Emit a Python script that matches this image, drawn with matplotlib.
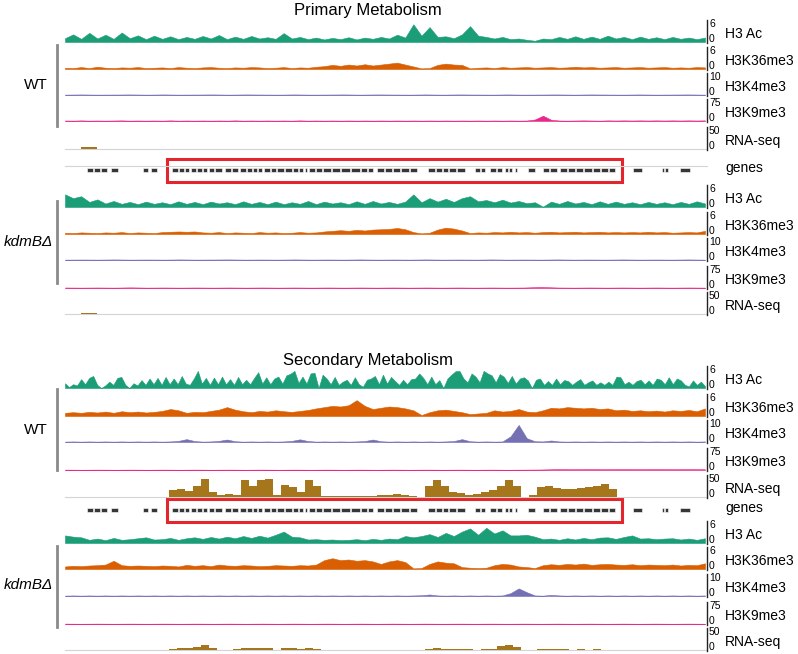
import numpy as np
import matplotlib.pyplot as plt
from matplotlib.patches import Rectangle

plt.rcParams['font.family'] = ['Liberation Sans', 'DejaVu Sans']

# track names, data range and colours (same for every block)
TRACK_NAMES = ['H3 Ac', 'H3K36me3', 'H3K4me3', 'H3K9me3', 'RNA-seq']
TRACK_MAX = [6, 6, 10, 75, 50]
TRACK_COLORS = ['#1b9e77', '#d95f02', '#7570b3', '#e7298a', '#a6761d']

# ---- Primary metabolism locus, binned signal left -> right ----
prim_wt_h3ac = [1.2, 2.4, 1.0, 2.9, 1.1, 2.3, 1.0, 3.0, 1.2, 2.1,
                0.9, 2.0, 1.0, 1.8, 0.9, 1.6, 1.0, 1.9, 1.1, 2.2,
                0.9, 1.7, 1.0, 1.9, 1.1, 1.5, 1.0, 2.8, 1.1, 1.6,
                0.9, 1.4, 0.8, 1.3, 0.9, 1.5, 0.8, 1.4, 1.0, 1.6,
                1.1, 2.3, 1.4, 5.6, 2.0, 4.7, 1.6, 1.8, 1.2, 2.4,
                5.0, 2.0, 1.6, 1.1, 1.6, 0.9, 1.1, 0.7, 0.4, 1.1,
                0.9, 1.6, 1.0, 1.8, 1.0, 1.7, 1.0, 2.0, 1.1, 1.6,
                0.9, 1.7, 1.0, 1.5, 0.9, 1.6, 1.0, 1.4, 0.9, 1.4]
prim_wt_k36 = [0.4, 0.3, 0.6, 0.3, 0.7, 0.4, 0.3, 0.5, 0.4, 0.6,
               0.3, 0.4, 0.5, 0.3, 0.6, 0.4, 0.3, 0.5, 0.6, 0.4,
               0.3, 0.5, 0.4, 0.6, 0.5, 0.3, 0.4, 0.6, 0.3, 0.5,
               0.4, 0.7, 0.9, 1.3, 1.0, 1.4, 1.1, 1.5, 1.1, 1.4,
               1.7, 2.0, 1.4, 0.8, 0.2, 0.3, 1.3, 1.7, 1.4, 1.3,
               0.2, 0.4, 0.5, 0.3, 0.6, 0.4, 0.5, 0.6, 0.4, 0.5,
               0.6, 0.4, 0.5, 0.7, 0.5, 0.6, 0.4, 0.5, 0.6, 0.4,
               0.5, 0.6, 0.4, 0.5, 0.6, 0.4, 0.5, 0.4, 0.6, 0.5]
prim_wt_k4 = [0.2, 0.3, 0.2, 0.25, 0.3, 0.2, 0.3, 0.2, 0.25, 0.3,
              0.2, 0.3, 0.25, 0.2, 0.3, 0.2, 0.25, 0.3, 0.2, 0.3,
              0.25, 0.2, 0.3, 0.2, 0.3, 0.25, 0.2, 0.3, 0.2, 0.25,
              0.3, 0.2, 0.3, 0.25, 0.2, 0.3, 0.2, 0.25, 0.3, 0.2]
prim_wt_k9 = [2.0, 1.5, 2.5, 1.5, 2.0, 1.5, 2.0, 2.5, 1.5, 2.0,
              1.5, 2.0, 1.5, 2.5, 1.5, 2.0, 1.5, 2.0, 1.5, 2.0,
              1.5, 2.5, 1.5, 2.0, 1.5, 2.0, 1.5, 2.0, 1.5, 2.5,
              1.5, 2.0, 1.5, 2.0, 1.5, 2.0, 1.5, 2.0, 1.5, 2.0,
              1.5, 2.0, 1.5, 2.0, 1.5, 2.0, 1.5, 2.0, 1.5, 2.0,
              1.5, 2.0, 1.5, 2.0, 1.5, 2.0, 1.5, 2.0, 6.0, 21.0,
              5.0, 2.0, 1.5, 2.0, 2.5, 2.0, 1.5, 2.5, 2.0, 2.5,
              2.0, 2.5, 2.0, 2.5, 2.0, 2.5, 2.0, 2.5, 2.0, 2.5]
prim_wt_rna = [0, 4, 0, 0, 0, 0, 0, 0, 0, 0,
               0, 0, 0, 0, 0, 0, 0, 0, 0, 0,
               0, 0, 0.5, 0, 0.5, 0, 0.5, 0, 0, 0,
               0, 0, 0, 0, 0, 0, 0, 0, 0, 0]
prim_ko_h3ac = [4.0, 2.8, 3.4, 1.6, 2.4, 1.1, 1.9, 1.0, 1.6, 0.9,
                1.7, 1.0, 1.5, 0.9, 1.8, 1.0, 1.6, 0.9, 1.7, 1.1,
                1.5, 0.9, 1.8, 1.0, 1.6, 0.9, 1.7, 0.9, 1.5, 1.0,
                1.9, 0.9, 1.7, 1.1, 1.5, 0.9, 1.8, 1.0, 1.9, 1.1,
                1.6, 1.0, 1.7, 4.0, 1.5, 2.8, 1.7, 2.6, 1.6, 2.8,
                3.4, 1.8, 2.2, 1.5, 2.3, 1.4, 1.9, 1.2, 1.5, 0.1,
                1.7, 1.0, 1.9, 1.1, 1.6, 0.9, 1.8, 1.0, 1.7, 1.0,
                1.5, 0.9, 1.6, 1.0, 1.5, 0.9, 1.6, 1.0, 1.8, 1.1]
prim_ko_k36 = [0.4, 0.3, 0.5, 0.4, 0.3, 0.5, 0.4, 0.6, 0.3, 0.5,
               0.4, 0.3, 0.6, 0.7, 0.8, 0.7, 0.8, 0.5, 0.4, 0.6,
               0.3, 0.5, 0.4, 0.3, 0.6, 0.4, 0.5, 0.3, 0.4, 0.6,
               0.4, 0.5, 0.8, 1.0, 1.2, 1.0, 1.3, 1.1, 1.4, 1.5,
               1.6, 1.9, 1.5, 0.6, 0.2, 0.4, 1.4, 2.0, 1.7, 1.1,
               0.3, 0.5, 0.4, 0.6, 0.5, 0.7, 0.5, 0.6, 0.4, 0.6,
               0.7, 0.5, 0.6, 0.7, 0.5, 0.6, 0.7, 0.5, 0.6, 0.5,
               0.6, 0.5, 0.7, 0.5, 0.6, 0.4, 0.5, 0.6, 0.5, 1.0]
prim_ko_k4 = [0.2, 0.25, 0.2, 0.3, 0.2, 0.25, 0.2, 0.3, 0.2, 0.25,
              0.3, 0.2, 0.25, 0.2, 0.3, 0.2, 0.25, 0.2, 0.3, 0.2,
              0.25, 0.2, 0.3, 0.2, 0.25, 0.2, 0.3, 0.2, 0.25, 0.2,
              0.3, 0.2, 0.25, 0.2, 0.3, 0.2, 0.25, 0.2, 0.3, 0.2]
prim_ko_k9 = [2.0, 1.5, 2.0, 1.5, 2.5, 1.5, 2.0, 1.5, 2.0, 1.5,
              2.0, 1.5, 2.0, 1.5, 2.0, 1.5, 2.0, 1.5, 2.0, 1.5,
              2.0, 1.5, 2.0, 1.5, 2.0, 1.5, 2.0, 1.5, 2.0, 4.0,
              2.0, 1.5, 2.0, 1.5, 2.0, 1.5, 2.0, 1.5, 2.0, 1.5]
prim_ko_rna = [0, 3, 0, 0, 0, 0, 0, 0, 0.6, 0,
               0, 0, 0, 0, 0, 0, 0, 0, 0, 0,
               0, 0, 0, 0, 0, 0, 0, 0, 0, 0,
               0, 0, 0, 0, 0, 0, 0, 0, 0, 0]

# ---- Secondary metabolism locus ----
sec_wt_h3ac = [1.5, 0.3, 1.2, 0.8, 2.8, 1.2, 3.2, 3.8, 1.0, 0.0,
               0.8, 2.0, 1.0, 3.2, 3.5, 1.0, 0.0, 1.5, 0.8, 2.5,
               1.0, 3.0, 1.2, 3.2, 1.0, 3.5, 1.2, 3.0, 1.2, 3.8,
               1.4, 1.0, 3.0, 5.4, 1.4, 3.2, 1.0, 3.3, 1.2, 3.6,
               1.2, 2.8, 1.0, 3.5, 1.2, 2.6, 1.2, 3.2, 5.0, 1.4,
               3.4, 1.2, 3.0, 3.6, 1.4, 4.0, 4.5, 5.4, 1.6, 3.6,
               1.4, 4.6, 4.8, 0.0, 4.2, 3.0, 1.2, 3.5, 1.0, 2.0,
               2.6, 1.0, 3.4, 1.2, 0.4, 2.6, 3.0, 3.8, 1.2, 4.2,
               1.4, 3.5, 2.2, 1.0, 2.6, 1.2, 2.8, 3.0, 4.6, 3.2,
               1.2, 3.6, 1.2, 2.5, 0.0, 3.0, 4.2, 5.3, 5.4, 3.0,
               1.8, 4.6, 3.6, 1.8, 5.4, 4.6, 4.0, 1.8, 4.4, 3.6,
               1.6, 3.8, 1.4, 3.0, 3.4, 2.4, 0.0, 2.6, 3.0, 1.0,
               2.2, 1.0, 3.0, 1.2, 2.5, 2.2, 1.0, 2.0, 2.8, 1.0,
               1.8, 2.4, 1.0, 1.8, 1.0, 2.0, 1.0, 3.6, 3.4, 1.2,
               2.0, 1.0, 2.2, 2.6, 1.2, 2.4, 1.0, 3.0, 2.6, 1.2,
               3.4, 1.2, 3.0, 2.4, 1.0, 0.5, 2.4, 1.0, 2.0, 0.6]
sec_wt_k36 = [1.0, 1.2, 1.0, 1.3, 1.1, 1.4, 1.0, 1.5, 1.2, 1.4,
              1.1, 1.3, 1.6, 2.2, 1.8, 1.0, 1.3, 1.2, 1.6, 2.0,
              2.8, 2.0, 1.5, 1.2, 1.6, 1.4, 1.8, 1.5, 1.3, 1.6,
              1.9, 2.4, 2.8, 3.2, 3.0, 3.4, 5.0, 3.2, 2.2, 2.6,
              3.0, 2.8, 2.4, 1.8, 0.3, 1.2, 1.8, 2.0, 1.6, 1.2,
              0.6, 0.8, 1.0, 1.8, 1.4, 1.6, 2.2, 1.4, 1.2, 1.8,
              2.6, 2.4, 2.8, 2.6, 2.4, 2.6, 2.2, 2.4, 1.8, 2.0,
              1.6, 1.8, 1.5, 1.7, 1.4, 1.8, 1.6, 1.9, 1.5, 2.4]
sec_wt_k4 = [0.2, 0.3, 0.2, 0.3, 0.2, 0.3, 0.2, 0.3, 0.2, 0.3,
             0.2, 0.3, 0.2, 0.3, 0.6, 1.5, 0.5, 0.2, 0.3, 0.6,
             1.3, 0.4, 0.2, 0.3, 0.2, 0.3, 0.2, 0.3, 0.6, 1.4,
             0.5, 0.2, 0.3, 0.2, 0.3, 0.2, 0.3, 0.5, 1.3, 0.4,
             0.2, 0.3, 0.2, 0.3, 0.2, 0.3, 0.2, 0.3, 0.5, 1.5,
             0.4, 0.2, 0.3, 0.2, 0.3, 3.0, 9.0, 2.0, 0.4, 0.3,
             0.8, 0.3, 0.2, 0.3, 0.2, 0.3, 0.2, 0.3, 0.2, 0.3,
             0.2, 0.3, 0.2, 0.3, 0.2, 0.3, 0.2, 0.3, 0.2, 0.3]
sec_wt_k9 = [1.5, 1.0, 1.5, 1.0, 1.5, 1.0, 1.5, 1.0, 1.5, 1.0,
             1.5, 1.0, 1.5, 1.0, 1.5, 1.0, 1.5, 1.0, 1.5, 1.0,
             1.5, 1.0, 1.5, 1.0, 1.5, 1.0, 1.5, 1.0, 1.5, 2.0,
             3.5, 3.0, 3.5, 3.0, 3.5, 3.0, 3.5, 3.0, 3.5, 3.0]
sec_wt_rna = [0, 0, 0, 0, 0, 0, 0, 0, 0, 0,
              0, 0, 0, 18, 22, 15, 30, 48, 12, 6,
              8, 4, 46, 30, 44, 48, 5, 32, 26, 14,
              44, 30, 3, 2, 2, 2, 3, 2, 2, 4,
              5, 7, 6, 3, 1, 30, 44, 28, 12, 10,
              6, 8, 14, 18, 30, 46, 30, 1, 4, 26,
              30, 24, 20, 22, 24, 26, 30, 34, 22, 0,
              0, 0, 0, 0, 0, 0, 0, 0, 0, 0]
sec_ko_h3ac = [2.4, 2.0, 1.8, 1.0, 1.4, 0.9, 1.6, 1.0, 1.2, 1.5,
               1.8, 1.1, 1.2, 1.6, 1.0, 1.5, 1.8, 1.3, 1.9, 1.4,
               2.0, 1.5, 2.2, 1.6, 2.3, 1.7, 2.6, 3.6, 2.0, 1.8,
               1.1, 1.2, 1.0, 1.1, 0.9, 1.0, 1.2, 0.9, 1.3, 1.0,
               1.4, 1.2, 2.2, 1.8, 2.2, 2.8, 1.9, 3.2, 2.2, 3.6,
               4.6, 2.6, 4.8, 3.0, 4.0, 2.4, 2.4, 2.6, 2.0, 1.2,
               1.4, 1.0, 1.5, 1.1, 1.6, 1.2, 1.7, 1.8, 1.3, 1.9,
               2.4, 1.4, 1.5, 1.2, 1.4, 1.5, 1.1, 1.4, 1.0, 1.5]
sec_ko_k36 = [0.8, 1.0, 0.9, 1.1, 1.2, 1.4, 2.6, 1.2, 1.0, 1.1,
              1.0, 0.9, 1.1, 1.0, 0.8, 1.3, 1.0, 1.2, 0.9, 1.4,
              1.1, 1.0, 1.2, 1.1, 0.9, 1.0, 1.2, 1.1, 1.0, 1.2,
              1.1, 1.4, 2.8, 3.4, 2.8, 3.0, 2.6, 2.8, 2.4, 1.6,
              2.4, 2.8, 2.2, 0.2, 0.3, 1.6, 2.4, 2.0, 1.8, 0.6,
              0.4, 0.3, 0.4, 1.2, 1.6, 1.4, 0.8, 0.6, 0.3, 1.2,
              1.5, 1.3, 1.6, 1.4, 1.7, 1.3, 1.5, 1.6, 1.4, 1.3,
              1.5, 1.2, 1.4, 1.3, 1.2, 1.4, 1.1, 1.3, 1.2, 1.8]
sec_ko_k4 = [0.2, 0.3, 0.2, 0.3, 0.2, 0.3, 0.2, 0.3, 0.2, 0.3,
             0.2, 0.3, 0.2, 0.3, 0.2, 0.3, 0.2, 0.3, 0.2, 0.3,
             0.2, 0.3, 0.2, 0.3, 0.2, 0.3, 0.2, 0.3, 0.2, 0.3,
             0.2, 0.3, 0.2, 0.3, 0.2, 0.3, 0.2, 0.3, 0.2, 0.3,
             0.2, 0.3, 0.2, 0.3, 0.4, 0.8, 0.3, 0.2, 0.3, 0.2,
             0.3, 0.2, 0.3, 0.2, 0.3, 1.5, 4.0, 2.0, 0.3, 0.2,
             0.6, 0.3, 0.2, 0.3, 0.2, 0.3, 0.2, 0.3, 0.2, 0.3,
             0.2, 0.3, 0.2, 0.3, 0.2, 0.3, 0.2, 0.3, 0.2, 0.3]
sec_ko_k9 = [1.5, 1.0, 1.5, 1.0, 1.5, 1.0, 1.5, 1.0, 1.5, 1.0,
             1.5, 1.0, 1.5, 1.0, 1.5, 1.0, 1.5, 1.0, 1.5, 1.0,
             1.5, 1.0, 1.5, 1.0, 1.5, 1.0, 1.5, 1.0, 1.5, 1.0,
             1.5, 1.0, 1.5, 1.0, 1.5, 1.0, 1.5, 1.0, 1.5, 1.0]
sec_ko_rna = [0, 0, 0, 0, 0, 0, 0, 0, 0, 0,
              0, 0, 0, 3, 4, 4, 8, 14, 4, 1,
              0.5, 3, 5, 4, 6, 5, 1, 4, 5, 3,
              5, 3, 0.5, 0.3, 0.3, 0.3, 0.3, 0.3, 0.3, 0.3,
              0.3, 0.3, 0.3, 0.3, 0.3, 3, 4, 2, 1.5, 2,
              1.5, 1, 1.5, 3, 10, 12, 8, 0.5, 1, 3,
              3.5, 2, 1.5, 1.2, 1.5, 1.3, 1.5, 1.2, 0, 0,
              0, 0, 0, 0, 0, 0, 0, 0, 0, 0]

# gene models (start, end) along the locus, same region in both blocks
genes = [(22, 28), (29, 35), (36, 42), (46, 53), (78, 83), (86, 92),
         (107, 113), (114, 119), (120, 124), (126, 131), (132, 137), (138, 142),
         (144, 149), (150, 157), (160, 166), (167, 173), (175, 181), (182, 187),
         (188, 192), (193, 197), (199, 205), (206, 211), (212, 219), (220, 227),
         (228, 233), (234, 238), (240, 242), (244, 250), (251, 257), (258, 266),
         (267, 275), (276, 285), (286, 295), (296, 302), (303, 308), (312, 319),
         (320, 327), (328, 335), (336, 344), (345, 352), (363, 370), (371, 377),
         (378, 383), (384, 391), (392, 400), (410, 415), (416, 420), (425, 431),
         (432, 437), (440, 443), (444, 447), (450, 452), (463, 470), (478, 484),
         (485, 492), (495, 502), (503, 510), (511, 518), (519, 527), (528, 535),
         (536, 543), (544, 550), (568, 577), (597, 599), (600, 603), (615, 625)]

# ---- layout (pixels) ----
X0, TW, TH = 65, 640, 19
panels = [
    dict(title='Primary Metabolism', title_y=11,
         wt=[prim_wt_h3ac, prim_wt_k36, prim_wt_k4, prim_wt_k9, prim_wt_rna],
         ko=[prim_ko_h3ac, prim_ko_k36, prim_ko_k4, prim_ko_k9, prim_ko_rna],
         wt_base=[42, 69, 95, 121, 149], ko_base=[207, 234, 260, 288, 314],
         gene_y=170, gene_line=166, box=(159, 182),
         wt_bar=(45, 126), ko_bar=(201, 283), wt_y=85, ko_y=242),
    dict(title='Secondary Metabolism', title_y=360,
         wt=[sec_wt_h3ac, sec_wt_k36, sec_wt_k4, sec_wt_k9, sec_wt_rna],
         ko=[sec_ko_h3ac, sec_ko_k36, sec_ko_k4, sec_ko_k9, sec_ko_rna],
         wt_base=[388, 416, 442, 470, 497], ko_base=[543, 569, 596, 624, 650],
         gene_y=510, gene_line=None, box=(499, 522),
         wt_bar=(389, 470), ko_bar=(546, 627), wt_y=430, ko_y=585),
]

fig = plt.figure(figsize=(7.98, 6.54), dpi=100)
ov = fig.add_axes([0, 0, 1, 1])
ov.set_xlim(0, 798)
ov.set_ylim(654, 0)
ov.axis('off')


def draw_track(base, vals, ymax, color, name):
    ax = fig.add_axes([X0 / 798, 1 - base / 654, TW / 798, TH / 654])
    if name == 'RNA-seq':
        # RNA coverage drawn as blocks
        edges = np.linspace(0, TW, len(vals) + 1)
        ax.stairs(vals, edges, fill=True, color=color, lw=0)
        ov.plot([X0, 707], [base, base], color='#d4d4d4', lw=0.8)
    else:
        x = np.linspace(0, TW, len(vals))
        ax.fill_between(x, 0, vals, color=color, lw=0.4)
    ax.set_xlim(0, TW)
    ax.set_ylim(0, ymax)
    ax.axis('off')
    # scale bar + labels
    ov.plot([707, 707], [base + 1, base - 22], color='#222222', lw=1.0)
    ov.text(709, base - 23, str(ymax), fontsize=7.5, va='top', ha='left')
    ov.text(709, base + 2, '0', fontsize=7.5, va='bottom', ha='left')
    ov.text(725, base - 8, name, fontsize=10, va='center', ha='left')


for p in panels:
    ov.text(368, p['title_y'], p['title'], fontsize=12, ha='center', va='center')
    for i in range(5):
        draw_track(p['wt_base'][i], p['wt'][i], TRACK_MAX[i], TRACK_COLORS[i], TRACK_NAMES[i])
        draw_track(p['ko_base'][i], p['ko'][i], TRACK_MAX[i], TRACK_COLORS[i], TRACK_NAMES[i])

    # genes track
    gy = p['gene_y']
    if p['gene_line'] is not None:
        ov.plot([X0, 707], [p['gene_line']] * 2, color='#d4d4d4', lw=0.8)
    ov.broken_barh([(X0 + s, e - s) for s, e in genes], (gy - 2, 4),
                   facecolor='#363636', edgecolor='white', lw=0.4)
    ov.text(725, gy - 2, 'genes', fontsize=10, va='center', ha='left')
    top, bot = p['box']
    ov.add_patch(Rectangle((167, top), 455, bot - top, fill=False,
                           ec='#e3262e', lw=2.2))

    # sample brackets
    ov.plot([57, 57], p['wt_bar'], color='#8a8a8a', lw=2)
    ov.plot([57, 57], p['ko_bar'], color='#8a8a8a', lw=2)
    ov.text(36, p['wt_y'], 'WT', fontsize=11, ha='center', va='center')
    ov.text(28, p['ko_y'], 'kdmB\u0394', fontsize=11, style='italic',
            ha='center', va='center')

fig.savefig('out.png', dpi=100)
